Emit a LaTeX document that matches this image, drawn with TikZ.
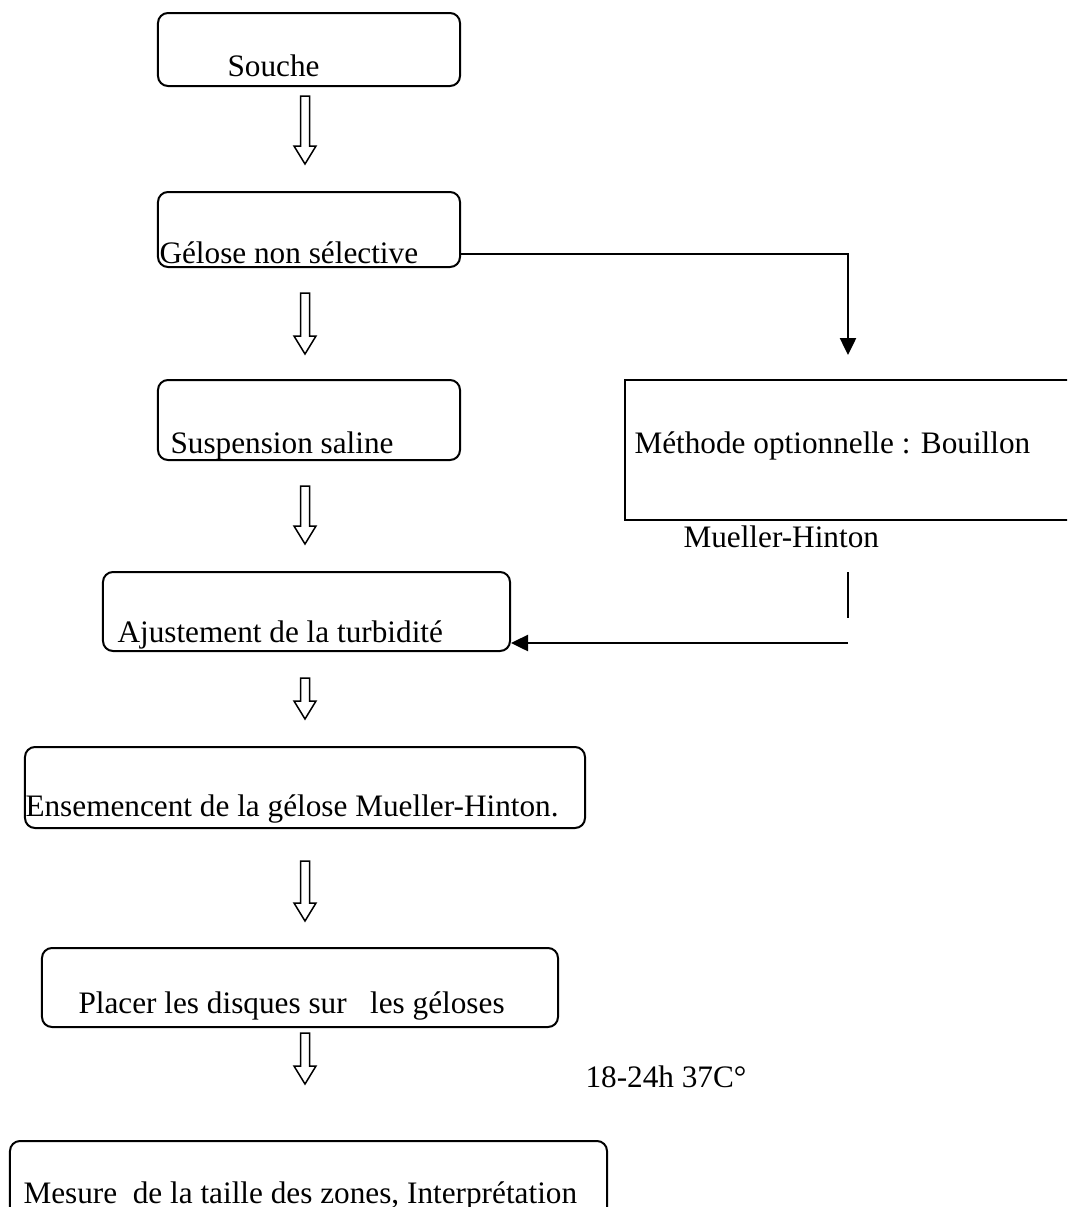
\documentclass[tikz,border=0pt]{standalone}
\usepackage{fontspec}
\setmainfont{Liberation Serif}
\usetikzlibrary{arrows.meta, calc}

\tikzset{
  box/.style={draw, rounded corners=4pt, line width=0.8pt, inner sep=0pt},
  txt/.style={anchor=base west, inner sep=0pt, font=\fontsize{12.5}{14}\selectfont},
  conn/.style={line width=1pt},
  hollow/.style={line width=0.6pt, to path={let \p1=(\tikztostart), \p2=(\tikztotarget) in
    ({\x1-1.8pt},\y1) -- ({\x1+1.8pt},\y1) -- ({\x1+1.8pt},{\y2+7.2pt}) -- ({\x1+4.4pt},{\y2+7.2pt})
    -- (\x1,\y2) -- ({\x1-4.4pt},{\y2+7.2pt}) -- ({\x1-1.8pt},{\y2+7.2pt}) -- cycle}},
}

\begin{document}
\begin{tikzpicture}[x=0.4pt, y=-0.4pt]
    \clip (0,0) rectangle (1067,1207);
    \coordinate (spine) at (305,0);

    % Boxes
    \node[box, minimum width=120.8pt, minimum height=29.2pt] (souche) at (309,49.5) {};
    \node[box, minimum width=120.8pt, minimum height=30pt] (gelose) at (309,229.5) {};
    \node[box, minimum width=120.8pt, minimum height=32pt] (susp) at (309,420) {};
    \node[box, minimum width=162.8pt, minimum height=31.6pt] (ajust) at (306.5,611.5) {};
    \node[box, minimum width=224pt, minimum height=32.4pt] (ensem) at (305,787.5) {};
    \node[box, minimum width=206.4pt, minimum height=31.6pt] (disques) at (300,987.5) {};
    \node[box, minimum width=238.8pt, minimum height=33.6pt] (mesure) at (308.5,1183) {};
    \node[draw, line width=1pt, inner sep=0pt, minimum width=186pt, minimum height=56pt] (bouillon) at (857.5,450) {};

    % Texts
    \node[txt] (tsouche) at (227,76) {Souche};
    \node[txt] (tgelose) at (159,263) {Gélose non sélective};
    \node[txt] (tsusp) at (170,453) {Suspension saline};
    \node[txt] (tbouillon) at (634,453) {Méthode optionnelle : Bouillon};
    \node[txt] (tmh) at (683,547) {Mueller-Hinton};
    \node[txt] (tajust) at (117,642) {Ajustement de la turbidité};
    \node[txt] (tensem) at (25,816) {Ensemencent de la gélose Mueller-Hinton.};
    \node[txt] (tdisques) at (78,1013) {Placer les disques sur\ \ \ les géloses};
    \node[txt] (tincub) at (585,1087) {18-24h 37C°};
    \node[txt] (tmesure) at (23,1203) {Mesure\ \ de la taille des zones, Interprétation};

    % Hollow arrows
    \draw[hollow] ($(souche.south -| spine)+(0,9)$) to ($(gelose.north -| spine)+(0,-27)$);
    \draw[hollow] ($(gelose.south -| spine)+(0,25)$) to ($(susp.north -| spine)+(0,-25)$);
    \draw[hollow] ($(susp.south -| spine)+(0,25)$) to ($(ajust.north -| spine)+(0,-27)$);
    \draw[hollow] ($(ajust.south -| spine)+(0,26)$) to ($(ensem.north -| spine)+(0,-27)$);
    \draw[hollow] ($(ensem.south -| spine)+(0,32)$) to ($(disques.north -| spine)+(0,-26)$);
    \draw[hollow] ($(disques.south -| spine)+(0,5)$) to ($(mesure.north -| spine)+(0,-56)$);

    % Side branch
    \coordinate (mhin) at (848,355);
    \coordinate (mhout) at (848,643);
    \draw[conn, -{Triangle[length=6.8pt, width=6.4pt]}] ([yshift=-9.8pt]gelose.east) -| (mhin);
    \draw[conn] ($(mhout)+(0,-71)$) -- ($(mhout)+(0,-25)$);
    \draw[conn, -{Triangle[length=6.8pt, width=6.4pt]}] (mhout) -- (ajust.east |- mhout);
\end{tikzpicture}
\end{document}
